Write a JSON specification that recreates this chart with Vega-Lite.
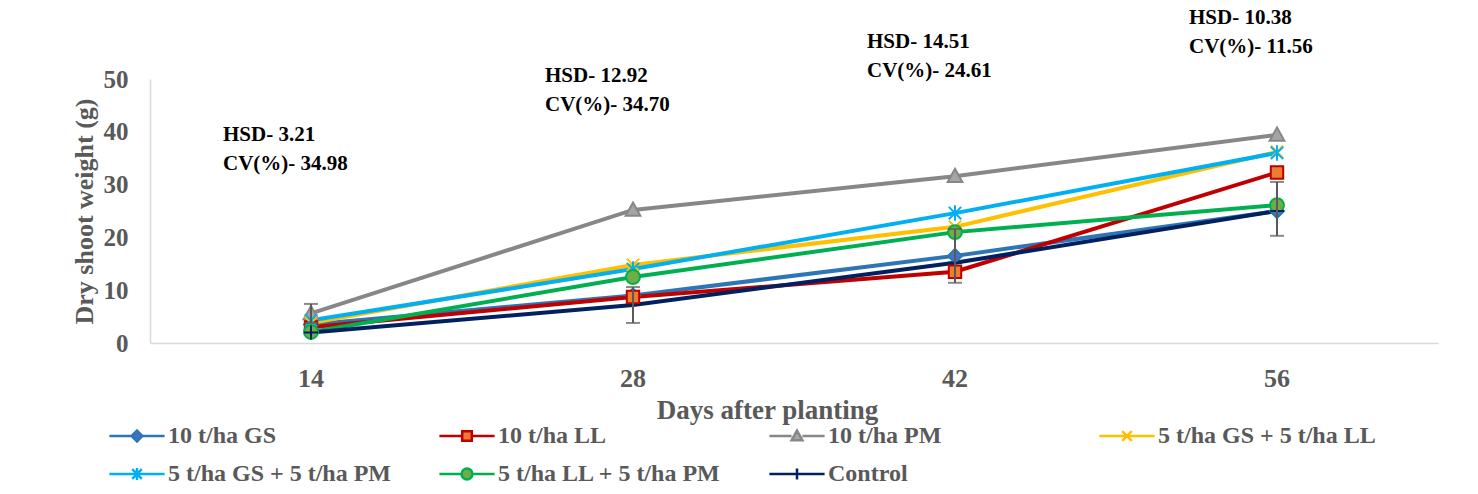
{
  "$schema": "https://vega.github.io/schema/vega-lite/v6.json",
  "autosize": "none",
  "width": 1288,
  "height": 264,
  "padding": {"left": 150, "top": 79, "right": 40, "bottom": 151},
  "background": "white",
  "config": {
    "font": "Liberation Serif",
    "view": {"stroke": null},
    "axis": {"grid": false, "labelFont": "Liberation Serif", "titleFont": "Liberation Serif", "labelFontWeight": "bold", "titleFontWeight": "bold", "labelColor": "#595959", "titleColor": "#595959", "domainColor": "#D9D9D9", "domainWidth": 1.5, "ticks": false},
    "legend": {"orient": "none", "legendX": -25, "legendY": 345, "direction": "horizontal", "columns": 4, "gridAlign": "all", "columnPadding": 42, "rowPadding": 14, "symbolSize": 144, "symbolStrokeWidth": 2.5, "symbolOpacity": 1, "labelFont": "Liberation Serif", "labelFontWeight": "bold", "labelFontSize": 24, "labelColor": "#595959", "labelOffset": 19, "labelLimit": 400}
  },
  "resolve": {"scale": {"shape": "independent", "stroke": "independent", "fill": "independent"}},
  "datasets": {
    "main": [
      {"day": "14", "series": "10 t/ha GS", "value": 3.5},
      {"day": "28", "series": "10 t/ha GS", "value": 9.0},
      {"day": "42", "series": "10 t/ha GS", "value": 16.5},
      {"day": "56", "series": "10 t/ha GS", "value": 25.0},
      {"day": "14", "series": "10 t/ha LL", "value": 3.0},
      {"day": "28", "series": "10 t/ha LL", "value": 8.7},
      {"day": "42", "series": "10 t/ha LL", "value": 13.5},
      {"day": "56", "series": "10 t/ha LL", "value": 32.3},
      {"day": "14", "series": "10 t/ha PM", "value": 5.6},
      {"day": "28", "series": "10 t/ha PM", "value": 25.2},
      {"day": "42", "series": "10 t/ha PM", "value": 31.6},
      {"day": "56", "series": "10 t/ha PM", "value": 39.4},
      {"day": "14", "series": "5 t/ha GS + 5 t/ha LL", "value": 3.8},
      {"day": "28", "series": "5 t/ha GS + 5 t/ha LL", "value": 14.8},
      {"day": "42", "series": "5 t/ha GS + 5 t/ha LL", "value": 22.0},
      {"day": "56", "series": "5 t/ha GS + 5 t/ha LL", "value": 36.2},
      {"day": "14", "series": "5 t/ha GS + 5 t/ha PM", "value": 4.3},
      {"day": "28", "series": "5 t/ha GS + 5 t/ha PM", "value": 14.0},
      {"day": "42", "series": "5 t/ha GS + 5 t/ha PM", "value": 24.6},
      {"day": "56", "series": "5 t/ha GS + 5 t/ha PM", "value": 36.0},
      {"day": "14", "series": "5 t/ha LL + 5 t/ha PM", "value": 2.1},
      {"day": "28", "series": "5 t/ha LL + 5 t/ha PM", "value": 12.5},
      {"day": "42", "series": "5 t/ha LL + 5 t/ha PM", "value": 21.0},
      {"day": "56", "series": "5 t/ha LL + 5 t/ha PM", "value": 26.1},
      {"day": "14", "series": "Control", "value": 2.0},
      {"day": "28", "series": "Control", "value": 7.2},
      {"day": "42", "series": "Control", "value": 15.2},
      {"day": "56", "series": "Control", "value": 25.0}
    ],
    "errs": [
      {"day": "14", "lo": 3.8, "hi": 7.4},
      {"day": "28", "lo": 3.8, "hi": 10.6},
      {"day": "42", "lo": 11.4, "hi": 21.6},
      {"day": "56", "lo": 20.3, "hi": 30.5}
    ],
    "notes": [
      {"day": "14", "pos": 41.5, "label": "HSD- 3.21\nCV(%)- 34.98"},
      {"day": "28", "pos": 52.7, "label": "HSD- 12.92\nCV(%)- 34.70"},
      {"day": "42", "pos": 59.1, "label": "HSD- 14.51\nCV(%)- 24.61"},
      {"day": "56", "pos": 63.6, "label": "HSD- 10.38\nCV(%)- 11.56"}
    ]
  },
  "layer": [
    {
      "data": {"name": "main"},
      "mark": {"type": "line", "strokeWidth": 4},
      "encoding": {
        "x": {"field": "day", "type": "ordinal", "sort": ["14", "28", "42", "56"], "scale": {"paddingInner": 0, "paddingOuter": 0},
              "axis": {"title": "Days after planting", "labelAngle": 0, "labelFontSize": 26, "labelPadding": 22, "titleFontSize": 27, "titlePadding": 6, "titleX": 617}},
        "y": {"field": "value", "type": "quantitative", "scale": {"domain": [0, 50]},
              "axis": {"title": "Dry shoot weight (g)", "values": [0, 10, 20, 30, 40, 50], "labelFontSize": 25, "labelPadding": 22, "titleFontSize": 26, "titlePadding": 6}},
        "stroke": {"field": "series", "type": "nominal", "legend": null,
          "scale": {"domain": ["10 t/ha GS", "10 t/ha LL", "10 t/ha PM", "5 t/ha GS + 5 t/ha LL", "5 t/ha GS + 5 t/ha PM", "5 t/ha LL + 5 t/ha PM", "Control"],
                    "range": ["#2E75B6", "#C00000", "#878787", "#FFC000", "#00B0F0", "#00B050", "#002060"]}
        }
      }
    },
    {
      "data": {"name": "main"},
      "mark": {"type": "point", "filled": true, "size": 240, "strokeWidth": 2, "opacity": 1},
      "encoding": {
        "x": {"field": "day", "type": "ordinal", "sort": ["14", "28", "42", "56"]},
        "y": {"field": "value", "type": "quantitative"},
        "stroke": {"field": "series", "type": "nominal", "legend": null,
          "scale": {"domain": ["10 t/ha GS", "10 t/ha LL", "10 t/ha PM", "5 t/ha GS + 5 t/ha LL", "5 t/ha GS + 5 t/ha PM", "5 t/ha LL + 5 t/ha PM", "Control"],
                    "range": ["#2E75B6", "#C00000", "#878787", "#FFC000", "#00B0F0", "#00B050", "#002060"]}},
        "fill": {"field": "series", "type": "nominal", "legend": null,
          "scale": {"domain": ["10 t/ha GS", "10 t/ha LL", "10 t/ha PM", "5 t/ha GS + 5 t/ha LL", "5 t/ha GS + 5 t/ha PM", "5 t/ha LL + 5 t/ha PM", "Control"],
                    "range": ["#4472C4", "#ED7D31", "#A5A5A5", "#FFC000", "#00B0F0", "#70AD47", "#002060"]}},
        "shape": {"field": "series", "type": "nominal", "legend": null,
          "scale": {"domain": ["10 t/ha GS", "10 t/ha LL", "10 t/ha PM", "5 t/ha GS + 5 t/ha LL", "5 t/ha GS + 5 t/ha PM", "5 t/ha LL + 5 t/ha PM", "Control"],
                    "range": ["M0,-0.9L0.9,0L0,0.9L-0.9,0Z", "M-0.8,-0.8L0.8,-0.8L0.8,0.8L-0.8,0.8Z", "M0,-0.95L0.95,0.75L-0.95,0.75Z", "M-0.8,-0.8L0.8,0.8M0.8,-0.8L-0.8,0.8", "M-0.8,-0.8L0.8,0.8M0.8,-0.8L-0.8,0.8M0,-1L0,1", "M-0.9,0A0.9,0.9,0,1,0,0.9,0A0.9,0.9,0,1,0,-0.9,0Z", "M-0.9,0L0.9,0M0,-0.9L0,0.9"]}}
      }
    },
    {
      "data": {"name": "main"},
      "mark": {"type": "point", "filled": true, "size": 144, "strokeWidth": 2.5, "opacity": 0},
      "encoding": {
        "x": {"field": "day", "type": "ordinal", "sort": ["14", "28", "42", "56"]},
        "y": {"field": "value", "type": "quantitative"},
        "stroke": {"field": "series", "type": "nominal", "legend": {"title": null},
          "scale": {"domain": ["10 t/ha GS", "10 t/ha LL", "10 t/ha PM", "5 t/ha GS + 5 t/ha LL", "5 t/ha GS + 5 t/ha PM", "5 t/ha LL + 5 t/ha PM", "Control"],
                    "range": ["#2E75B6", "#C00000", "#878787", "#FFC000", "#00B0F0", "#00B050", "#002060"]}},
        "fill": {"field": "series", "type": "nominal", "legend": {"title": null},
          "scale": {"domain": ["10 t/ha GS", "10 t/ha LL", "10 t/ha PM", "5 t/ha GS + 5 t/ha LL", "5 t/ha GS + 5 t/ha PM", "5 t/ha LL + 5 t/ha PM", "Control"],
                    "range": ["#4472C4", "#ED7D31", "#A5A5A5", "#FFC000", "#00B0F0", "#70AD47", "#002060"]}},
        "shape": {"field": "series", "type": "nominal", "legend": {"title": null},
          "scale": {"domain": ["10 t/ha GS", "10 t/ha LL", "10 t/ha PM", "5 t/ha GS + 5 t/ha LL", "5 t/ha GS + 5 t/ha PM", "5 t/ha LL + 5 t/ha PM", "Control"],
                    "range": ["M-4.6,0L-0.9,0M0.9,0L4.6,0M0,-0.9L0.9,0L0,0.9L-0.9,0Z", "M-4.6,0L-0.8,0M0.8,0L4.6,0M-0.8,-0.8L0.8,-0.8L0.8,0.8L-0.8,0.8Z", "M-4.6,0L-0.9,0M0.9,0L4.6,0M0,-0.9L0.9,0.7L-0.9,0.7Z", "M-4.6,0L4.6,0M-0.8,-0.8L0.8,0.8M0.8,-0.8L-0.8,0.8", "M-4.6,0L4.6,0M-0.8,-0.8L0.8,0.8M0.8,-0.8L-0.8,0.8M0,-1L0,1", "M-4.6,0L-0.9,0M0.9,0L4.6,0M-0.9,0A0.9,0.9,0,1,0,0.9,0A0.9,0.9,0,1,0,-0.9,0Z", "M-4.6,0L4.6,0M0,-0.9L0,0.9"]}}
      }
    },
    {
      "data": {"name": "errs"},
      "mark": {"type": "errorbar", "ticks": {"size": 14, "color": "#595959", "thickness": 2}, "thickness": 2, "color": "#595959"},
      "encoding": {
        "x": {"field": "day", "type": "ordinal", "sort": ["14", "28", "42", "56"]},
        "y": {"field": "lo", "type": "quantitative", "title": "Dry shoot weight (g)"},
        "y2": {"field": "hi"}
      }
    },
    {
      "data": {"name": "notes"},
      "mark": {"type": "text", "align": "left", "baseline": "top", "dx": -88, "lineBreak": "\n", "lineHeight": 29, "font": "Liberation Serif", "fontWeight": "bold", "fontSize": 21, "color": "#000000", "clip": false},
      "encoding": {
        "x": {"field": "day", "type": "ordinal", "sort": ["14", "28", "42", "56"]},
        "y": {"field": "pos", "type": "quantitative"},
        "text": {"field": "label"}
      }
    }
  ]
}
